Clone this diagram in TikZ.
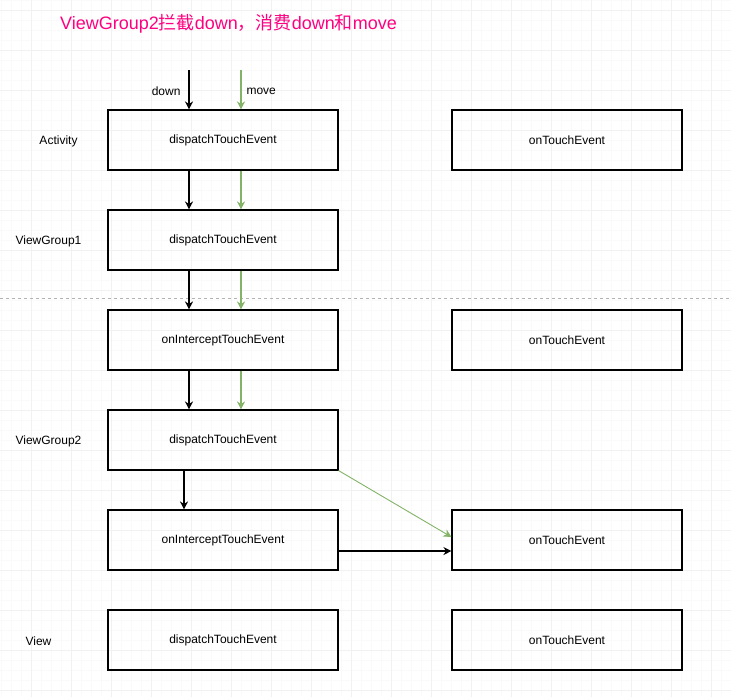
\documentclass[tikz,border=0pt]{standalone}
\usepackage{fontspec}
\setmainfont{Liberation Sans}
\newfontfamily\cjk{Noto Sans CJK SC}
\usetikzlibrary{arrows.meta}
\definecolor{titlepink}{HTML}{FF0080}
\definecolor{movegreen}{HTML}{82B366}
\definecolor{gridminor}{HTML}{FAFAFA}
\definecolor{gridmajor}{HTML}{F1F1F1}
\definecolor{sepgray}{HTML}{B3B3B3}
\begin{document}
\begin{tikzpicture}[x=1pt, y=-1pt,
		box/.style={draw, line width=1.1pt, minimum width=230pt, minimum height=60pt, font=\fontsize{12}{14}\selectfont},
		layer/.style={font=\fontsize{12}{14}\selectfont},
		evt/.style={font=\fontsize{12}{14}\selectfont},
		>={Stealth[length=8pt, width=8pt, inset=2.5pt]}]
		\useasboundingbox (0,0) rectangle (731,697);
		% Grid
		\foreach \x in {1,11,...,731} \draw[gridminor, line width=0.6pt] (\x,0) -- (\x,697);
		\foreach \y in {0,10,...,697} \draw[gridminor, line width=0.6pt] (0,\y) -- (731,\y);
		\foreach \x in {31,71,...,731} \draw[gridmajor, line width=0.8pt] (\x,0) -- (\x,697);
		\foreach \y in {10,50,...,697} \draw[gridmajor, line width=0.8pt] (0,\y) -- (731,\y);
		\node[anchor=west, text=titlepink, font=\fontsize{18}{22}\selectfont, inner sep=0pt] (Title) at (60,24) {ViewGroup2{\cjk 拦截}down{\cjk ，消费}down{\cjk 和}move};
		% Layers
		\node[layer] (Activity) at (58.5,141) {Activity};
		\node[layer] (ViewGroup1) at (48.5,241) {ViewGroup1};
		\node[layer] (ViewGroup2) at (48.5,441) {ViewGroup2};
		\node[layer] (View) at (38.5,641) {View};
		% Boxes
		\node[box] (Activity dispatch) at (223,140) {dispatchTouchEvent};
		\node[box] (Activity touch) at (567,140) {onTouchEvent};
		\node[box] (ViewGroup1 dispatch) at (223,240) {dispatchTouchEvent};
		\node[box] (ViewGroup1 intercept) at (223,340) {onInterceptTouchEvent};
		\node[box] (ViewGroup1 touch) at (567,340) {onTouchEvent};
		\node[box] (ViewGroup2 dispatch) at (223,440) {dispatchTouchEvent};
		\node[box] (ViewGroup2 intercept) at (223,540) {onInterceptTouchEvent};
		\node[box] (ViewGroup2 touch) at (567,540) {onTouchEvent};
		\node[box] (View dispatch) at (223,640) {dispatchTouchEvent};
		\node[box] (View touch) at (567,640) {onTouchEvent};
		% Separator
		\draw[sepgray, line width=0.8pt, dash pattern=on 3pt off 3pt] (0,298) -- (731,298);
		% Events
		\coordinate (down in) at (189,70);
		\coordinate (move in) at (241,70);
		\node[evt, anchor=east] (down) at (184,91) {down};
		\node[evt, anchor=west] (move) at (243,91) {move};
		% Arrows
		\draw[line width=1.1pt, ->] (down in) -- (down in |- Activity dispatch.north);
		\draw[line width=1.1pt, movegreen, ->] (move in) -- (move in |- Activity dispatch.north);
		\draw[line width=1.1pt, ->] ([xshift=-34pt]Activity dispatch.south) -- ([xshift=-34pt]ViewGroup1 dispatch.north);
		\draw[line width=1.1pt, movegreen, ->] ([xshift=18pt]Activity dispatch.south) -- ([xshift=18pt]ViewGroup1 dispatch.north);
		\draw[line width=1.1pt, ->] ([xshift=-34pt]ViewGroup1 dispatch.south) -- ([xshift=-34pt]ViewGroup1 intercept.north);
		\draw[line width=1.1pt, movegreen, ->] ([xshift=18pt]ViewGroup1 dispatch.south) -- ([xshift=18pt]ViewGroup1 intercept.north);
		\draw[line width=1.1pt, ->] ([xshift=-34pt]ViewGroup1 intercept.south) -- ([xshift=-34pt]ViewGroup2 dispatch.north);
		\draw[line width=1.1pt, movegreen, ->] ([xshift=18pt]ViewGroup1 intercept.south) -- ([xshift=18pt]ViewGroup2 dispatch.north);
		\draw[line width=1.1pt, ->] ([xshift=-39pt]ViewGroup2 dispatch.south) -- ([xshift=-39pt]ViewGroup2 intercept.north);
		\draw[line width=0.9pt, movegreen, ->] (ViewGroup2 dispatch.south east) -- ([yshift=3pt]ViewGroup2 touch.west);
		\draw[line width=1.1pt, ->] ([yshift=-11pt]ViewGroup2 intercept.east) -- ([yshift=-11pt]ViewGroup2 touch.west);
	\end{tikzpicture}
\end{document}
